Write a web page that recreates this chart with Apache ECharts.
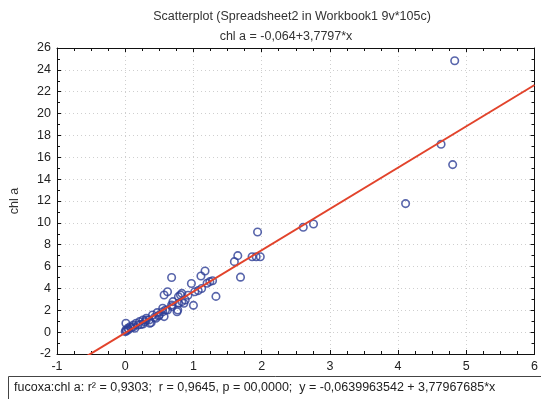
<!DOCTYPE html>
<html>
<head>
<meta charset="utf-8">
<script src="https://cdn.jsdelivr.net/npm/echarts@6/dist/echarts.min.js"></script>
<style>
  html, body { margin: 0; padding: 0; background: #fff; }
  #chart { width: 541px; height: 399px; }
</style>
</head>
<body>
<div id="chart"></div>
<script>
// fucoxanthin (x) versus chlorophyll a (y)
const fucoxa = [
  0.00, 0.01, 0.01, 0.02, 0.04, 0.05, 0.07, 0.09, 0.12, 0.12, 0.14, 0.16, 0.19, 0.21,
  0.23, 0.26, 0.26, 0.29, 0.31, 0.31, 0.35, 0.36, 0.38, 0.40, 0.43, 0.45, 0.47, 0.49,
  0.50, 0.55, 0.55, 0.57, 0.59, 0.62, 0.68, 0.69, 0.70, 0.76, 0.77, 0.78, 0.83, 0.86,
  0.88, 0.92, 0.57, 0.62, 0.68, 0.81, 0.83, 0.78, 1.00, 0.97, 1.02, 1.07, 1.12, 1.11,
  1.17, 1.20, 1.24, 1.28, 1.33, 1.60, 1.65, 1.69, 1.86, 1.92, 1.98, 1.94, 2.61, 2.76,
  4.11, 4.63, 4.80, 4.83
];
const chlA = [
  0.05, 0.20, 0.81, 0.10, 0.36, 0.25, 0.50, 0.40, 0.50, 0.66, 0.35, 0.81, 0.66, 0.96,
  0.70, 0.75, 1.11, 0.95, 1.11, 1.27, 1.11, 0.81, 0.87, 1.57, 1.35, 1.27, 1.79, 1.48,
  1.57, 1.87, 2.19, 1.42, 2.03, 2.03, 2.49, 2.34, 2.79, 1.87, 2.03, 2.64, 2.79, 2.64,
  2.94, 3.37, 3.40, 3.70, 5.00, 3.40, 3.55, 3.25, 2.45, 4.45, 3.70, 3.80, 4.00, 5.14,
  5.60, 4.47, 4.62, 4.70, 3.27, 6.45, 7.00, 5.03, 6.90, 6.90, 6.90, 9.17, 9.60, 9.90,
  11.76, 17.19, 15.33, 24.84
];

// fitted regression: chl a = intercept + slope * x
const intercept = -0.064;
const slope = 3.7797;

const xTicks = [-1, 0, 1, 2, 3, 4, 5, 6];
const yTicks = [-2, 0, 2, 4, 6, 8, 10, 12, 14, 16, 18, 20, 22, 24, 26];

const titleText = 'Scatterplot (Spreadsheet2 in Workbook1 9v*105c)';
const subtitleText = 'chl a = -0,064+3,7797*x';
const statsText = 'fucoxa:chl a: r\u00B2 = 0,9303;  r = 0,9645, p = 00,0000;  y = -0,0639963542 + 3,77967685*x';

const points = fucoxa.map((x, i) => [x, chlA[i]]);
const xMin = xTicks[0], xMax = xTicks[xTicks.length - 1];
const fitLine = [xMin, xMax].map(x => [x, intercept + slope * x]);

const font = '"Liberation Sans", Arial, sans-serif';
const fs = 12.5;

const chart = echarts.init(document.getElementById('chart'), null, { renderer: 'canvas' });

const axisLine = { show: true, onZero: false, lineStyle: { color: '#111', width: 1 } };
const axisTick = { show: true, inside: true, length: 4, lineStyle: { color: '#111' } };
const gridLine = { show: true, lineStyle: { color: '#cfcfcf', type: [1, 3] } };

chart.setOption({
  animation: false,
  backgroundColor: '#fff',
  title: [
    { text: titleText, left: 287, top: 5, textAlign: 'center',
      textStyle: { fontFamily: font, fontSize: fs, fontWeight: 'normal', color: '#333' } },
    { text: subtitleText, left: 281, top: 25, textAlign: 'center',
      textStyle: { fontFamily: font, fontSize: fs, fontWeight: 'normal', color: '#333' } }
  ],
  grid: { left: 52, right: 1, top: 48, bottom: 45, containLabel: false },
  xAxis: [
    {
      type: 'value', position: 'bottom', min: xMin, max: xMax, interval: 1,
      axisLine: axisLine, axisTick: axisTick,
      minorTick: { show: true, splitNumber: 4, length: 3, lineStyle: { color: '#111' } },
      axisLabel: { fontFamily: font, fontSize: fs, color: '#222', margin: 6 },
      splitLine: gridLine
    },
    {
      type: 'value', position: 'top', min: xMin, max: xMax, interval: 1,
      axisLine: axisLine, axisTick: axisTick,
      minorTick: { show: true, splitNumber: 4, length: 3, lineStyle: { color: '#111' } },
      axisLabel: { show: false }, splitLine: { show: false }
    }
  ],
  yAxis: [
    {
      type: 'value', position: 'left', min: yTicks[0], max: yTicks[yTicks.length - 1], interval: 2,
      name: 'chl a', nameLocation: 'middle', nameGap: 36, nameRotate: 90,
      nameTextStyle: { fontFamily: font, fontSize: fs, color: '#333' },
      axisLine: axisLine, axisTick: axisTick,
      minorTick: { show: true, splitNumber: 2, length: 3, lineStyle: { color: '#111' } },
      axisLabel: { fontFamily: font, fontSize: fs, color: '#222', margin: 6 },
      splitLine: gridLine
    },
    {
      type: 'value', position: 'right', min: yTicks[0], max: yTicks[yTicks.length - 1], interval: 2,
      axisLine: axisLine, axisTick: axisTick,
      minorTick: { show: true, splitNumber: 2, length: 3, lineStyle: { color: '#111' } },
      axisLabel: { show: false }, splitLine: { show: false }
    }
  ],
  series: [
    {
      type: 'scatter', xAxisIndex: 0, yAxisIndex: 0, data: points,
      symbol: 'circle', symbolSize: 7.5,
      itemStyle: { color: 'rgba(255,255,255,0)', borderColor: '#2e3f96', borderWidth: 1.6 },
      z: 3
    },
    {
      type: 'line', xAxisIndex: 0, yAxisIndex: 0, data: fitLine, clip: true,
      showSymbol: false, symbol: 'none',
      lineStyle: { color: '#e2432b', width: 2 }, z: 4
    }
  ],
  graphic: [
    { type: 'rect', left: 8, top: 376, shape: { width: 540, height: 30 },
      style: { fill: '#fff', stroke: '#444', lineWidth: 1 } },
    { type: 'text', left: 14, top: 381,
      style: { text: statsText, font: fs + 'px ' + font, fill: '#222' } }
  ]
});
</script>
</body>
</html>
